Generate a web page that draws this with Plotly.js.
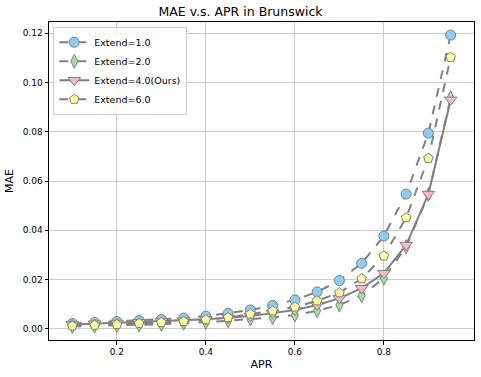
<!DOCTYPE html>
<html>
<head>
<meta charset="utf-8">
<script src="https://cdn.plot.ly/plotly-3.0.1.min.js"></script>
<style>
  body { margin: 0; background: #fff; }
  #chart { width: 481px; height: 377px; }
</style>
</head>
<body>
<div id="chart"></div>
<script>
const apr = [0.1, 0.15, 0.2, 0.25, 0.3, 0.35, 0.4, 0.45, 0.5, 0.55, 0.6, 0.65, 0.7, 0.75, 0.8, 0.85, 0.9, 0.95];

const extend1 = [0.0022, 0.0026, 0.003, 0.0034, 0.0038, 0.0044, 0.0052, 0.0063, 0.0077, 0.0095, 0.0118, 0.015, 0.0196, 0.0266, 0.0377, 0.0547, 0.0794, 0.1192];
const extend2 = [0.001, 0.0012, 0.0014, 0.0016, 0.0019, 0.0023, 0.0027, 0.0033, 0.004, 0.0046, 0.0056, 0.0074, 0.0097, 0.0135, 0.0206, 0.0333, 0.0545, 0.0938];
const extend4 = [0.0018, 0.0021, 0.0024, 0.0027, 0.003, 0.0034, 0.0039, 0.0045, 0.0052, 0.0064, 0.0077, 0.0097, 0.0124, 0.0165, 0.0226, 0.034, 0.0547, 0.0929];
const extend6 = [0.0012, 0.0015, 0.0018, 0.0022, 0.0026, 0.003, 0.0037, 0.0046, 0.006, 0.0073, 0.0089, 0.0114, 0.0147, 0.0204, 0.0296, 0.0451, 0.0692, 0.1102];

const names = ['Extend=1.0', 'Extend=2.0', 'Extend=4.0(Ours)', 'Extend=6.0'];
const series = [extend1, extend2, extend4, extend6];
const fills = ['#87cefa', '#90ee90', '#ffb6c1', '#ffff99'];
const symbols = ['circle', 'diamond-tall', 'triangle-down', 'pentagon'];
const dashes = ['dash', 'dash', 'solid', 'dash'];
const sizes = [10, 10, 11, 10];

const traces = series.map(function (ys, i) {
  return {
    x: apr,
    y: ys,
    mode: 'lines+markers',
    type: 'scatter',
    name: names[i],
    line: { color: 'gray', width: 2, dash: dashes[i] },
    marker: {
      symbol: symbols[i],
      size: sizes[i],
      color: fills[i],
      line: { color: 'gray', width: 1 },
    },
  };
});

Plotly.newPlot('chart', traces, {
  width: 481,
  height: 377,
  paper_bgcolor: '#fff',
  plot_bgcolor: '#fff',
  font: { family: 'DejaVu Sans', size: 9, color: '#000' },
  margin: { l: 49, r: 7, t: 22, b: 37 },
  title: {
    text: 'MAE v.s. APR in Brunswick',
    font: { size: 12.5 },
    x: 0.5,
    xanchor: 'center',
    y: 0.968,
    yanchor: 'middle',
  },
  xaxis: {
    title: { text: 'APR', font: { size: 11 }, standoff: 4 },
    range: [0.0475, 1.0025],
    tickvals: [0.2, 0.4, 0.6, 0.8],
    ticktext: ['0.2', '0.4', '0.6', '0.8'],
    ticks: 'outside',
    ticklen: 3.5,
    tickcolor: '#000',
    showgrid: true,
    gridcolor: '#cccccc',
    gridwidth: 1,
    zeroline: false,
    showline: true,
    linecolor: '#000',
    linewidth: 1,
    mirror: true,
  },
  yaxis: {
    title: { text: 'MAE', font: { size: 11 }, standoff: 6 },
    range: [-0.0045, 0.1245],
    tickvals: [0, 0.02, 0.04, 0.06, 0.08, 0.1, 0.12],
    ticktext: ['0.00', '0.02', '0.04', '0.06', '0.08', '0.10', '0.12'],
    ticks: 'outside',
    ticklen: 3.5,
    tickcolor: '#000',
    showgrid: true,
    gridcolor: '#cccccc',
    gridwidth: 1,
    zeroline: false,
    showline: true,
    linecolor: '#000',
    linewidth: 1,
    mirror: true,
  },
  legend: {
    x: 0.01,
    y: 0.985,
    xanchor: 'left',
    yanchor: 'top',
    bgcolor: 'rgba(255,255,255,0.8)',
    bordercolor: '#cccccc',
    borderwidth: 1,
    font: { size: 9.5 },
    tracegroupgap: 0,
    itemwidth: 30,
  },
  showlegend: true,
}, { displayModeBar: false });
</script>
</body>
</html>
